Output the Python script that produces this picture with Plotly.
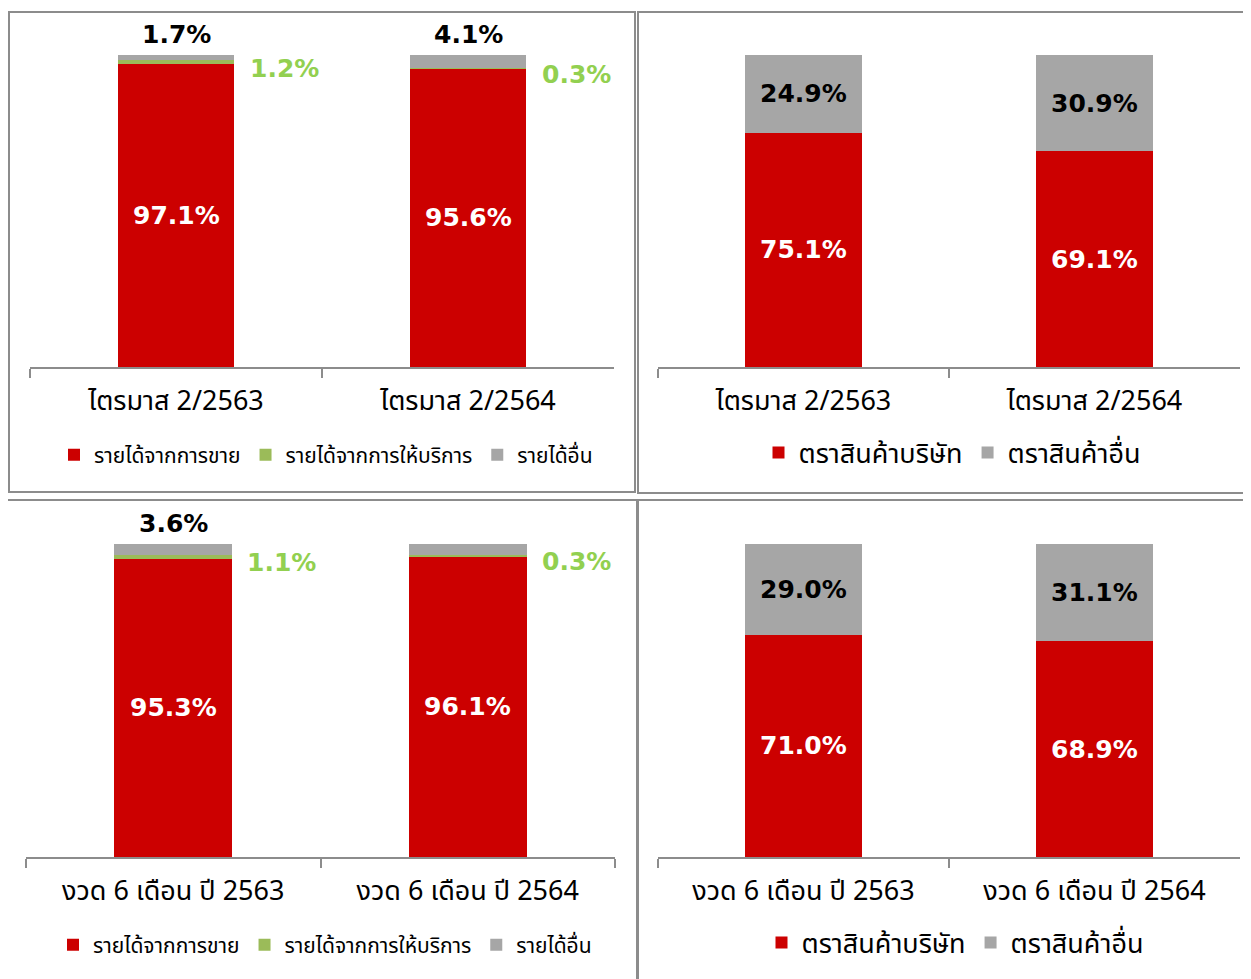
import plotly.graph_objects as go

# page body has an 8px default margin; the figure is sized to fit the window
OFF = 8
W, H = 1251 - OFF, 979 - OFF

# ---------------- data ----------------
cats_q = ["ไตรมาส 2/2563", "ไตรมาส 2/2564"]
cats_h = ["งวด 6 เดือน ปี 2563", "งวด 6 เดือน ปี 2564"]

rev_names = ["รายได้จากการขาย", "รายได้จากการให้บริการ", "รายได้อื่น"]
brand_names = ["ตราสินค้าบริษัท", "ตราสินค้าอื่น"]

q_sales = [97.1, 95.6]
q_service = [1.2, 0.3]
q_other = [1.7, 4.1]

h_sales = [95.3, 96.1]
h_service = [1.1, 0.3]
h_other = [3.6, 3.7]

q_own = [75.1, 69.1]
q_brand_other = [24.9, 30.9]

h_own = [71.0, 68.9]
h_brand_other = [29.0, 31.1]

RED = "#CC0000"
GREEN = "#9BBB59"
GREEN_TXT = "#92D050"
GRAY = "#A6A6A6"
FONT = "Tahoma, 'Noto Sans Thai', 'Noto Sans', 'DejaVu Sans', sans-serif"
LBL_FONT = "Tahoma, 'DejaVu Sans', sans-serif"


def px_x(p):
    return (p - OFF) / W


def px_y(p):
    return 1 - (p - OFF) / H


fig = go.Figure()

panels = [
    # (axis suffix, cats, kind, data, x-domain px, y-domain px, legend id, legend pos, legend font)
    ("", cats_q, "rev", (q_sales, q_service, q_other), (30, 614), (55, 367), "legend", (326, 455), 21),
    ("2", cats_q, "brand", (q_own, q_brand_other), (658, 1240), (55, 367), "legend2", (952, 453), 27),
    ("3", cats_h, "rev", (h_sales, h_service, h_other), (26, 615), (544, 857), "legend3", (325, 945), 21),
    ("4", cats_h, "brand", (h_own, h_brand_other), (658, 1240), (544, 857), "legend4", (955, 943), 27),
]

annotations = []
layout_axes = {}
legends = {}
NUM = 25

for suf, cats, kind, data, xd, yd, leg, lpos, lfs in panels:
    xa = "x" + suf
    ya = "y" + suf
    if kind == "rev":
        names = rev_names
        colors = [RED, GREEN, GRAY]
    else:
        names = brand_names
        colors = [RED, GRAY]
    for vals, name, col in zip(data, names, colors):
        fig.add_trace(go.Bar(
            x=cats, y=vals, name=name, marker=dict(color=col, line=dict(width=0)),
            xaxis=xa, yaxis=ya, legend=leg, showlegend=True, hoverinfo="skip",
        ))
    # labels
    if kind == "rev":
        sales, service, other = data
        for i, c in enumerate(cats):
            annotations.append(dict(x=c, y=sales[i] / 2, xref=xa, yref=ya, text=f"{sales[i]:.1f}%",
                                    showarrow=False, font=dict(family=LBL_FONT, size=NUM, color="white", weight="bold")))
            annotations.append(dict(x=c, y=sales[i] + service[i] + other[i], xref=xa, yref=ya,
                                    text=f"{other[i]:.1f}%", showarrow=False, yanchor="bottom", yshift=4,
                                    font=dict(family=LBL_FONT, size=NUM, color="black", weight="bold")))
            annotations.append(dict(x=c, y=sales[i] + service[i] / 2, xref=xa, yref=ya,
                                    text=f"{service[i]:.1f}%", showarrow=False, xanchor="left", xshift=72,
                                    yshift=-6,
                                    font=dict(family=LBL_FONT, size=NUM, color=GREEN_TXT, weight="bold")))
    else:
        own, oth = data
        for i, c in enumerate(cats):
            annotations.append(dict(x=c, y=own[i] / 2, xref=xa, yref=ya, text=f"{own[i]:.1f}%",
                                    showarrow=False, font=dict(family=LBL_FONT, size=NUM, color="white", weight="bold")))
            annotations.append(dict(x=c, y=own[i] + oth[i] / 2, xref=xa, yref=ya, text=f"{oth[i]:.1f}%",
                                    showarrow=False, font=dict(family=LBL_FONT, size=NUM, color="black", weight="bold")))

    key = "xaxis" + suf
    layout_axes[key] = dict(
        domain=[px_x(xd[0]), px_x(xd[1])], anchor=ya, type="category", range=[-0.5, 1.5],
        showline=True, linecolor="#8C8C8C", linewidth=2, ticks="outside", ticklen=9, tickwidth=2,
        tickcolor="#8C8C8C", tickson="boundaries", showgrid=False, zeroline=False,
        tickfont=dict(family=FONT, size=27, color="black"), ticklabelstandoff=9, fixedrange=True,
    )
    layout_axes["yaxis" + suf] = dict(
        domain=[px_y(yd[1]), px_y(yd[0])], anchor=xa, range=[0, 100], visible=False, fixedrange=True,
    )
    legends[leg] = dict(
        orientation="h", x=px_x(lpos[0]), y=px_y(lpos[1]), xanchor="center", yanchor="middle",
        font=dict(family=FONT, size=lfs, color="black"), bgcolor="rgba(0,0,0,0)",
        traceorder="normal", itemclick=False, itemdoubleclick=False,
    )

# panel borders
shapes = []
for x0, y0, x1, y1 in [(9, 12, 635, 492), (638, 12, 1260, 493), (5, 500, 637, 990), (638, 500, 1260, 990)]:
    shapes.append(dict(type="rect", xref="paper", yref="paper",
                       x0=px_x(x0), x1=px_x(x1), y0=px_y(y1), y1=px_y(y0),
                       line=dict(color="#8C8C8C", width=2), fillcolor="rgba(0,0,0,0)"))

fig.update_layout(
    width=W, height=H, margin=dict(l=0, r=0, t=0, b=0), autosize=False,
    paper_bgcolor="white", plot_bgcolor="white", barmode="stack", bargap=0.6,
    annotations=annotations, shapes=shapes, font=dict(family=FONT),
    **layout_axes, **legends,
)

fig.write_html("out.html", config={"displayModeBar": False})
